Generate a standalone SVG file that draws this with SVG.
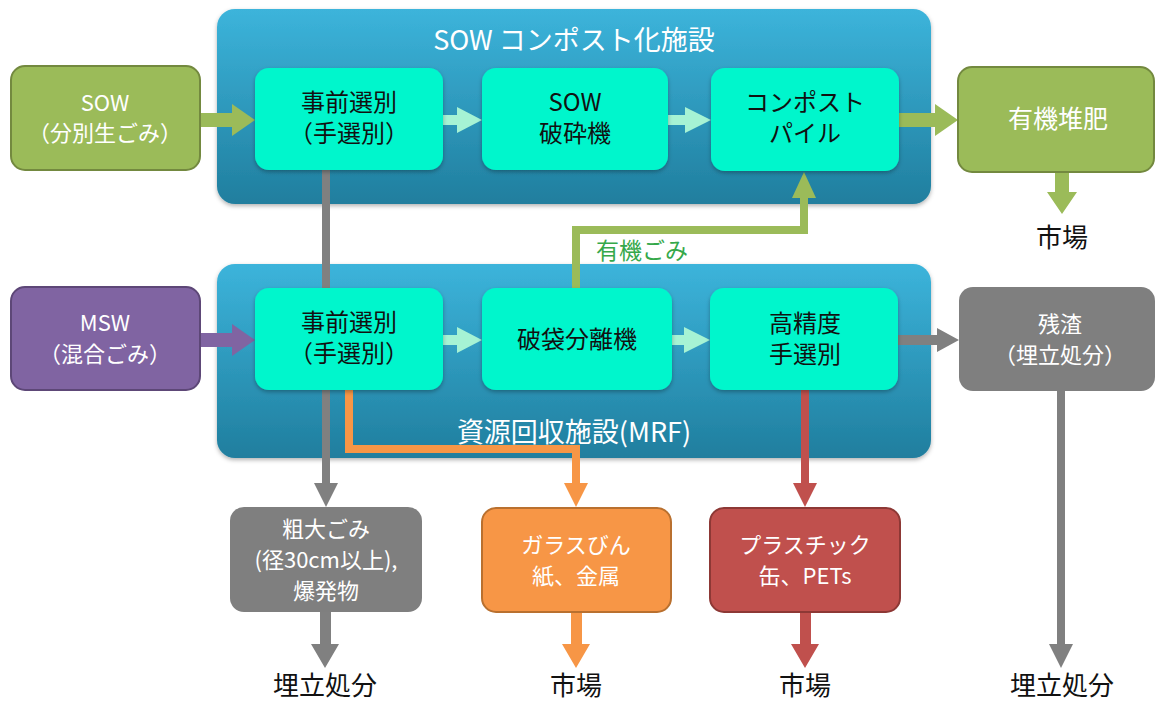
<svg xmlns="http://www.w3.org/2000/svg" width="1155" height="704" viewBox="0 0 1155 704">
<defs>
<linearGradient id="cont" x1="0" y1="0" x2="0" y2="1">
<stop offset="0" stop-color="#3cb4db"/>
<stop offset="1" stop-color="#207e9e"/>
</linearGradient>
<filter id="sh" x="-5%" y="-5%" width="110%" height="120%">
<feDropShadow dx="0" dy="2" stdDeviation="2" flood-color="#000" flood-opacity="0.3"/>
</filter>
<style>
text{font-family:"Noto Sans CJK JP","Noto Sans",sans-serif;text-anchor:middle}
.cont{fill:url(#cont);filter:url(#sh)}
.ctitle{fill:#fff;font-size:27px}
.proc{fill:#00f6cc;filter:url(#sh)}
.ptxt{fill:#111;font-size:24px}
.wtxt{fill:#fff;font-size:22px}
.green{fill:#9bbb59;stroke:#73893f;stroke-width:2}
.purple{fill:#8064a2;stroke:#5d4777;stroke-width:2}
.gray{fill:#7f7f7f}
.orange{fill:#f79646;stroke:#b9702f;stroke-width:2}
.red{fill:#c0504d;stroke:#8d3835;stroke-width:2}
.line{fill:none;stroke-width:8;stroke-linejoin:miter}
.lbl{fill:#111;font-size:26px}
.mint{fill:#a6f3d4}
</style>
</defs>
<rect width="1155" height="704" fill="#fff"/>

<g id="sow-facility">
<rect class="cont" x="217" y="9" width="714" height="195" rx="18"/>
<text class="ctitle" x="574" y="50">SOW コンポスト化施設</text>
</g>
<g id="mrf-facility">
<rect class="cont" x="217" y="264" width="714" height="194" rx="18"/>
<text class="ctitle" x="574" y="442">資源回収施設(MRF)</text>
</g>

<g id="connectors">
<path class="line" stroke="#808080" d="M326 170 V484"/>
<polygon fill="#808080" points="314,483 338,483 326,507"/>
<path class="line" stroke="#f79646" d="M349 390 V449 H576 V484"/>
<polygon fill="#f79646" points="564,483 588,483 576,507"/>
<path class="line" stroke="#9bbb59" d="M576 288 V230 H804 V197"/>
<polygon fill="#9bbb59" points="792,198 816,198 804,172"/>
<path class="line" stroke="#c0504d" d="M805 390 V484"/>
<polygon fill="#c0504d" points="793,483 817,483 805,507"/>
<path class="line" stroke="#808080" d="M1061 391 V645"/>
<polygon fill="#808080" points="1049,644 1073,644 1061,668"/>

<polygon fill="#9bbb59" points="200,113 232,113 232,104 255,120 232,136 232,127 200,127"/>
<polygon fill="#8064a2" points="200,333 232,333 232,324 255,340 232,356 232,347 200,347"/>
<polygon fill="#9bbb59" points="899,113 935,113 935,104 958,120 935,136 935,127 899,127"/>
<polygon fill="#808080" points="898,335 937,335 937,328 959,340 937,352 937,345 898,345"/>
<polygon class="mint" points="443,115 457,115 457,107 482,120 457,133 457,125 443,125"/>
<polygon class="mint" points="668,115 685,115 685,107 711,120 685,133 685,125 668,125"/>
<polygon class="mint" points="443,335 457,335 457,327 482,340 457,353 457,345 443,345"/>
<polygon class="mint" points="672,335 684,335 684,327 710,340 684,353 684,345 672,345"/>
<polygon fill="#9bbb59" points="1055,172 1069,172 1069,192 1077,192 1062,214 1047,192 1055,192"/>
<polygon fill="#808080" points="320,612 331,612 331,644 339,644 325,668 311,644 320,644"/>
<polygon fill="#f79646" points="571,612 582,612 582,644 590,644 576,668 562,644 571,644"/>
<polygon fill="#c0504d" points="800,612 811,612 811,644 819,644 805,668 791,644 800,644"/>
<text x="642" y="259" style="fill:#35a84a;font-size:23px">有機ごみ</text>
</g>

<g id="sow">
<rect class="green" x="11" y="66" width="189" height="104" rx="14"/>
<text class="wtxt" x="105" y="111">SOW</text>
<text class="wtxt" x="105" y="141">（分別生ごみ）</text>
</g>
<g id="presort-sow">
<rect class="proc" x="255" y="68" width="188" height="102" rx="14"/>
<text class="ptxt" x="349" y="111">事前選別</text>
<text class="ptxt" x="349" y="142">（手選別）</text>
</g>
<g id="crusher">
<rect class="proc" x="482" y="68" width="186" height="102" rx="14"/>
<text class="ptxt" x="575" y="111">SOW</text>
<text class="ptxt" x="575" y="142">破砕機</text>
</g>
<g id="compost-pile">
<rect class="proc" x="711" y="68" width="188" height="103" rx="14"/>
<text class="ptxt" x="805" y="111">コンポスト</text>
<text class="ptxt" x="805" y="142">パイル</text>
</g>
<g id="compost">
<rect class="green" x="958" y="67" width="196" height="105" rx="14"/>
<text class="wtxt" x="1058" y="128" style="font-size:25px">有機堆肥</text>
</g>
<text id="market-compost" class="lbl" x="1062" y="247">市場</text>

<g id="msw">
<rect class="purple" x="11" y="287" width="189" height="103" rx="14"/>
<text class="wtxt" x="105" y="331">MSW</text>
<text class="wtxt" x="105" y="362">（混合ごみ）</text>
</g>
<g id="presort-msw">
<rect class="proc" x="255" y="288" width="188" height="102" rx="14"/>
<text class="ptxt" x="349" y="331">事前選別</text>
<text class="ptxt" x="349" y="362">（手選別）</text>
</g>
<g id="bag-breaker">
<rect class="proc" x="482" y="288" width="190" height="102" rx="14"/>
<text class="ptxt" x="577" y="348">破袋分離機</text>
</g>
<g id="fine-sort">
<rect class="proc" x="710" y="288" width="188" height="102" rx="14"/>
<text class="ptxt" x="805" y="332">高精度</text>
<text class="ptxt" x="805" y="363">手選別</text>
</g>
<g id="residue">
<rect class="gray" x="959" y="287" width="196" height="104" rx="14"/>
<text class="wtxt" x="1060" y="332">残渣</text>
<text class="wtxt" x="1060" y="363">（埋立処分）</text>
</g>

<g id="bulky">
<rect class="gray" x="230" y="507" width="192" height="105" rx="14"/>
<text class="wtxt" x="326" y="537">粗大ごみ</text>
<text class="wtxt" x="326" y="568">(径30cm以上),</text>
<text class="wtxt" x="326" y="599">爆発物</text>
</g>
<g id="glass">
<rect class="orange" x="482" y="508" width="189" height="104" rx="14"/>
<text class="wtxt" x="576" y="553">ガラスびん</text>
<text class="wtxt" x="576" y="584">紙、金属</text>
</g>
<g id="plastic">
<rect class="red" x="710" y="508" width="190" height="104" rx="14"/>
<text class="wtxt" x="805" y="553">プラスチック</text>
<text class="wtxt" x="805" y="584">缶、PETs</text>
</g>

<text id="landfill-1" class="lbl" x="325" y="695">埋立処分</text>
<text id="market-1" class="lbl" x="576" y="695">市場</text>
<text id="market-2" class="lbl" x="805" y="695">市場</text>
<text id="landfill-2" class="lbl" x="1062" y="695">埋立処分</text>
</svg>
